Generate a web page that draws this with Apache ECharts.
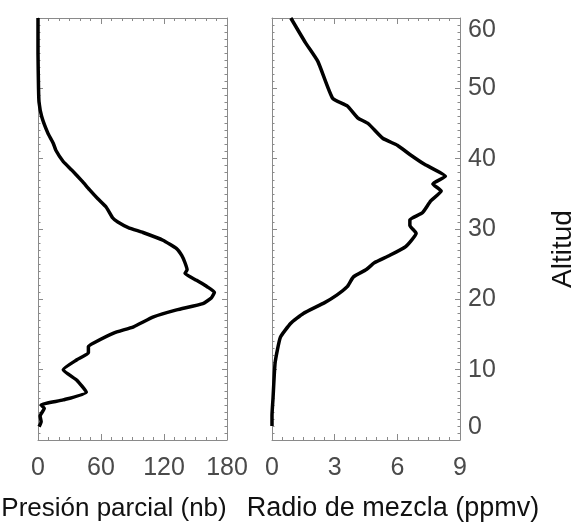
<!DOCTYPE html>
<html>
<head>
<meta charset="utf-8">
<script src="https://cdn.jsdelivr.net/npm/echarts@6/dist/echarts.min.js"></script>
<style>
  html, body { margin: 0; padding: 0; background: #fff; }
  #chart { width: 574px; height: 532px; }
</style>
</head>
<body>
<div id="chart"></div>
<script>
// Ozone profile: partial pressure (nb) and mixing ratio (ppmv) versus altitude (km)
const altitudeTicks = [0, 10, 20, 30, 40, 50, 60];
const pressureTicks = [0, 60, 120, 180];
const mixingTicks = [0, 3, 6, 9];

// Partial pressure profile, listed from the top of the sounding downward
const pressureAlt = [60, 55, 50, 48, 46, 43.6, 42.2, 41.2, 39.6, 38.4, 36.8, 35.6, 34.3, 33.1, 31.6, 31, 30.2, 29.5, 28.4, 27.2, 26.2, 25.2, 24.2, 23.7, 22.7, 21.8, 21, 20.2, 19.4, 18.5, 17.5, 16.1, 15.2, 13.8, 13.3, 12.4, 11.4, 10, 8.5, 6.8, 5.7, 5, 4.5, 3.4, 2.6, 1.9];
const pressureVal = [0, 0, 0.5, 1, 3.5, 9.5, 14.5, 17, 24, 32, 42, 49, 57, 65, 71, 76, 86, 100, 119, 132, 137, 140, 142, 140, 151, 161, 168, 165, 157, 132, 110, 91, 72, 53, 48, 48, 37, 24, 37, 46, 24, 3, 6, 2, 3, 1];

// Mixing ratio profile, listed from the bottom upward
const mixingAlt = [2, 3.5, 6, 11, 14.6, 16.6, 18, 19.5, 20.6, 21.8, 23.2, 24.2, 25.2, 26.2, 27.5, 29.4, 30.5, 31.3, 32.3, 34, 35.4, 36.4, 37.5, 39.2, 40.6, 41.9, 42.9, 45, 45.8, 47.5, 48.6, 53.8, 56.5, 60];
const mixingVal = [0, 0, 0.05, 0.15, 0.4, 0.9, 1.5, 2.5, 3.1, 3.6, 3.9, 4.5, 4.9, 5.6, 6.4, 6.9, 6.6, 6.6, 7.2, 7.6, 8.1, 7.7, 8.3, 7.3, 6.6, 6.0, 5.3, 4.6, 4.1, 3.6, 2.9, 2.2, 1.6, 0.9];

const pressurePoints = pressureVal.map((v, i) => [v, pressureAlt[i]]);
const mixingPoints = mixingVal.map((v, i) => [v, mixingAlt[i]]);

const frameColor = '#8a8a8a';
const tickLabelColor = '#4a4a4a';
const font = 'Liberation Sans, Arial, sans-serif';

function xAxes(gridIndex, ticks, showLabels) {
  const min = ticks[0], max = ticks[ticks.length - 1], step = ticks[1] - ticks[0];
  const common = {
    type: 'value', gridIndex, min, max, interval: step,
    splitLine: { show: false },
    axisLine: { show: true, onZero: false, lineStyle: { color: frameColor, width: 1 } },
    axisTick: { show: true, inside: true, length: 6, lineStyle: { color: frameColor } },
    minorTick: { show: true, splitNumber: 6, length: 3, lineStyle: { color: frameColor } }
  };
  return [
    Object.assign({}, common, {
      position: 'bottom',
      axisLabel: { show: showLabels, margin: 16, fontSize: 25, color: tickLabelColor, fontFamily: font }
    }),
    Object.assign({}, common, { position: 'top', axisLabel: { show: false } })
  ];
}

function yAxes(gridIndex, rightLabels) {
  const common = {
    type: 'value', gridIndex, min: altitudeTicks[0], max: altitudeTicks[altitudeTicks.length - 1],
    interval: altitudeTicks[1] - altitudeTicks[0],
    splitLine: { show: false },
    axisLine: { show: true, onZero: false, lineStyle: { color: frameColor, width: 1 } },
    axisTick: { show: true, inside: true, length: 5, lineStyle: { color: frameColor } },
    minorTick: { show: true, splitNumber: 10, length: 2.5, lineStyle: { color: frameColor } }
  };
  return [
    Object.assign({}, common, { position: 'left', axisLabel: { show: false } }),
    Object.assign({}, common, {
      position: 'right',
      axisLabel: {
        show: rightLabels, margin: 8, fontSize: 25, color: tickLabelColor, fontFamily: font,
        verticalAlignMinLabel: 'bottom', verticalAlignMaxLabel: 'top'
      }
    })
  ];
}

const chart = echarts.init(document.getElementById('chart'), null, { renderer: 'canvas' });

chart.setOption({
  backgroundColor: '#ffffff',
  animation: false,
  grid: [
    { left: 38, top: 18, width: 189, height: 422 },
    { left: 272, top: 18, width: 188, height: 422 }
  ],
  xAxis: [].concat(xAxes(0, pressureTicks, true), xAxes(1, mixingTicks, true)),
  yAxis: [].concat(yAxes(0, false), yAxes(1, true)),
  series: [
    {
      type: 'line', xAxisIndex: 0, yAxisIndex: 0, data: pressurePoints,
      showSymbol: false, smooth: 0.15,
      lineStyle: { color: '#000', width: 3.5 }
    },
    {
      type: 'line', xAxisIndex: 2, yAxisIndex: 2, data: mixingPoints,
      showSymbol: false, smooth: 0.15,
      lineStyle: { color: '#000', width: 3.5 }
    }
  ],
  graphic: [
    {
      type: 'text', x: 114, y: 509,
      style: { text: 'Presión parcial (nb)', font: '26px ' + font, fill: '#111', align: 'center', verticalAlign: 'middle' }
    },
    {
      type: 'text', x: 393, y: 509,
      style: { text: 'Radio de mezcla (ppmv)', font: '27px ' + font, fill: '#111', align: 'center', verticalAlign: 'middle' }
    },
    {
      type: 'text', x: 563, y: 249, rotation: Math.PI / 2,
      style: { text: 'Altitud', font: '28px ' + font, fill: '#111', align: 'center', verticalAlign: 'middle' }
    }
  ]
});
</script>
</body>
</html>
